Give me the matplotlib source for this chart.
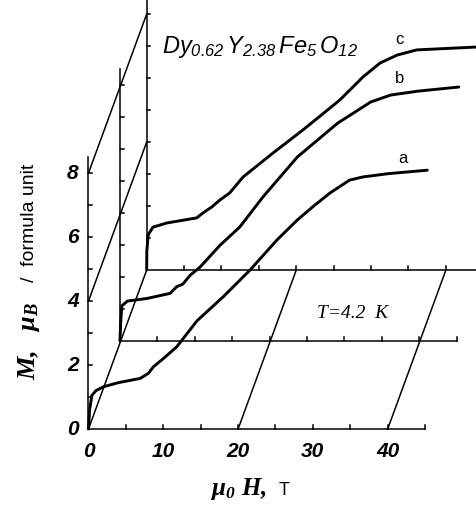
import numpy as np
import matplotlib.pyplot as plt

plt.rcParams['mathtext.fontset'] = 'custom'
plt.rcParams['mathtext.rm'] = 'Liberation Sans:italic'
plt.rcParams['mathtext.it'] = 'Liberation Sans:italic'
plt.rcParams['mathtext.bf'] = 'Liberation Serif:bold:italic'

# magnetization curves, each in its own plane (H in T, M in mu_B / f.u.)
H_a = [0, 0.15, 0.45, 1.0, 2.0, 4.0, 6.9, 8.0, 8.7, 10.0, 11.8, 14.5, 18.0,
       21.6, 25.2, 27.9, 30.0, 32.3, 34.9, 36.7, 40.0, 45.3]
M_a = [0, 0.6, 1.05, 1.2, 1.32, 1.45, 1.58, 1.74, 1.95, 2.2, 2.57, 3.38, 4.13,
       4.97, 5.91, 6.53, 6.95, 7.38, 7.78, 7.88, 7.98, 8.09]

H_b = [0, 0.1, 0.25, 1.0, 3.6, 6.7, 7.6, 8.4, 9.4, 10.7, 13.4, 16.0, 19.1,
       23.7, 29.1, 33.5, 36.2, 39.8, 45.3]
M_b = [0, 0.6, 1.1, 1.25, 1.33, 1.49, 1.70, 1.78, 2.06, 2.31, 3.0, 3.56, 4.5,
       5.75, 6.81, 7.47, 7.69, 7.81, 7.94]

H_c = [0, 0.02, 0.2, 0.84, 2.7, 6.7, 7.5, 8.7, 9.8, 11.1, 12.9, 16.9, 20.9,
       25.8, 28.9, 31.2, 33.5, 36.1, 45.0]
M_c = [0, 0.6, 1.1, 1.34, 1.47, 1.63, 1.78, 1.97, 2.19, 2.41, 2.91, 3.66, 4.38,
       5.31, 6.03, 6.47, 6.72, 6.88, 6.98]

curve_names = ['a', 'b', 'c']
x_ticks = [0, 10, 20, 30, 40]
y_ticks = [0, 2, 4, 6, 8]

# shift of the planes b and c (pseudo 3D stacking), in T and mu_B
shift = {'a': (0.0, 0.0), 'b': (4.21, 2.75), 'c': (7.78, 4.97)}
curves = {'a': (H_a, M_a), 'b': (H_b, M_b), 'c': (H_c, M_c)}

fig = plt.figure(figsize=(4.77, 5.05), dpi=100)
ax = fig.add_axes([0, 0, 1, 1])
ax.set_xlim(-11.83, 51.94)
ax.set_ylim(-2.375, 13.41)
ax.axis('off')

lw_ax = 1.1
for name in curve_names:
    dx, dy = shift[name]
    ax.plot([dx, dx + 45], [dy, dy], color='k', lw=lw_ax)
    ax.plot([dx, dx], [dy, dy + 8.5], color='k', lw=lw_ax)
    for h in range(5, 46, 5):
        ax.plot([dx + h, dx + h], [dy, dy + 0.13], color='k', lw=lw_ax)
    for m in range(1, 9):
        ax.plot([dx, dx + 0.5], [dy + m, dy + m], color='k', lw=lw_ax)

# connecting lines between the planes
dxc, dyc = shift['c']
for m in [0, 4, 8]:
    ax.plot([0, dxc], [m, m + dyc], color='k', lw=lw_ax)
for h in [20, 40]:
    ax.plot([h, h + dxc], [0, dyc], color='k', lw=lw_ax)

for name in curve_names:
    dx, dy = shift[name]
    H, M = curves[name]
    ax.plot(np.add(H, dx), np.add(M, dy), color='k', lw=2.1,
            solid_joinstyle='round', solid_capstyle='round')

# curve letters
ax.text(42.0, 8.47, 'a', fontsize=12, family='Liberation Sans', ha='center', va='center')
ax.text(41.6, 10.97, 'b', fontsize=12, family='Liberation Sans', ha='center', va='center')
ax.text(41.6, 12.16, 'c', fontsize=12, family='Liberation Sans', ha='center', va='center')

# tick labels
tick_font = dict(family='Liberation Sans', weight='bold', style='italic', fontsize=15)
for h in x_ticks:
    ax.text(h, -0.7, str(h), ha='center', va='center', **tick_font)
for m in y_ticks:
    ax.text(-1.3, m, str(m), ha='right', va='center', **tick_font)

ax.text(9.83, 11.75, r'$Dy_{0.62}\,Y_{2.38}\,Fe_5\,O_{12}$', fontsize=17,
        ha='left', va='baseline')
ax.text(30.5, 3.47, 'T=4.2  K', family='Liberation Serif', style='italic',
        fontsize=14, ha='left', va='baseline')

# axis titles
ax.text(-7.9, 2.75, r'$\mathbf{M,\ \ \mu_B}$', fontsize=19, rotation=90,
        ha='center', va='center')
ax.text(-7.9, 6.45, '/  formula unit', fontsize=14, family='Liberation Sans',
        rotation=90, ha='center', va='center')
ax.text(20.0, -2.05, r'$\mathbf{\mu_0\ H,}$', fontsize=18, ha='center', va='baseline')
ax.text(26.1, -2.05, 'T', fontsize=13, family='Liberation Sans', ha='center', va='baseline')

fig.savefig('out.png', dpi=100)
